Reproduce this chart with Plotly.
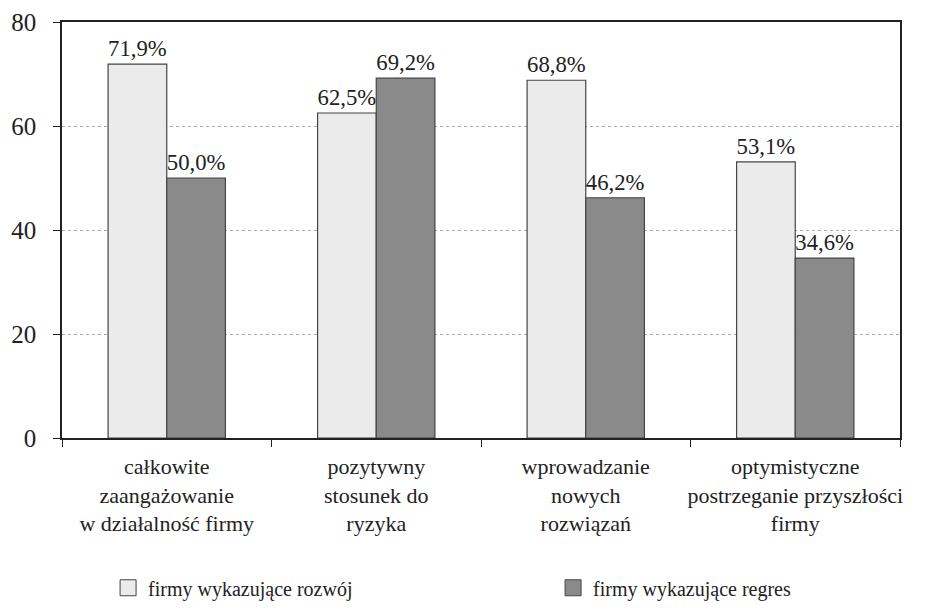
import plotly.graph_objects as go

categories = [
    "całkowite<br>zaangażowanie<br>w działalność firmy",
    "pozytywny<br>stosunek do<br>ryzyka",
    "wprowadzanie<br>nowych<br>rozwiązań",
    "optymistyczne<br>postrzeganie przyszłości<br>firmy",
]
series_names = ["firmy wykazujące rozwój", "firmy wykazujące regres"]
growth = [71.9, 62.5, 68.8, 53.1]
regress = [50.0, 69.2, 46.2, 34.6]
growth_labels = ["71,9%", "62,5%", "68,8%", "53,1%"]
regress_labels = ["50,0%", "69,2%", "46,2%", "34,6%"]
y_ticks = [0, 20, 40, 60, 80]

font_family = "'Liberation Serif', 'DejaVu Serif', serif"
light = "#ebebeb"
dark = "#8a8a8a"
edge = "#444444"

fig = go.Figure()
fig.add_trace(go.Bar(
    x=categories, y=growth, name=series_names[0], showlegend=False,
    text=growth_labels, textposition="outside", cliponaxis=False,
    textfont=dict(size=23, color="#222", family=font_family),
    marker=dict(color=light, line=dict(color=edge, width=1.2)),
))
fig.add_trace(go.Bar(
    x=categories, y=regress, name=series_names[1], showlegend=False,
    text=regress_labels, textposition="outside", cliponaxis=False,
    textfont=dict(size=23, color="#222", family=font_family),
    marker=dict(color=dark, line=dict(color=edge, width=1.2)),
))
# legend entries (larger square swatches)
fig.add_trace(go.Scatter(
    x=[None], y=[None], mode="markers", name=series_names[0], legend="legend",
    marker=dict(symbol="square", size=18, color=light, line=dict(color=edge, width=1)),
))
fig.add_trace(go.Scatter(
    x=[None], y=[None], mode="markers", name=series_names[1], legend="legend2",
    marker=dict(symbol="square", size=18, color=dark, line=dict(color=edge, width=1)),
))

legend_common = dict(
    orientation="h", yanchor="middle", xanchor="left", itemsizing="trace",
    font=dict(size=20, family=font_family, color="#222"),
    bgcolor="rgba(0,0,0,0)",
)
fig.update_layout(
    width=930, height=596,
    margin=dict(l=54, r=38, t=14, b=166, autoexpand=False),
    paper_bgcolor="white", plot_bgcolor="white",
    barmode="group", bargap=0.44, bargroupgap=0,
    font=dict(family=font_family, size=20, color="#222"),
    showlegend=True,
    legend=dict(x=0.055, y=-0.36, **legend_common),
    legend2=dict(x=0.586, y=-0.36, **legend_common),
)
fig.update_xaxes(
    showline=True, linecolor="#222", linewidth=1.5, mirror=True,
    ticks="outside", tickson="boundaries", ticklen=7, tickcolor="#222",
    tickangle=0, automargin=False, ticklabelstandoff=8,
    tickfont=dict(size=22, family=font_family, color="#222"),
    showgrid=False,
)
fig.update_yaxes(
    range=[0, 80], tickvals=y_ticks,
    showline=True, linecolor="#222", linewidth=1.5, mirror=True,
    ticks="outside", ticklen=7, tickcolor="#222", automargin=False,
    ticklabelstandoff=12,
    tickfont=dict(size=25, family=font_family, color="#222"),
    showgrid=True, gridcolor="#aaaaaa", griddash="dot", gridwidth=1,
    zeroline=False,
)

fig.write_html("out.html")
